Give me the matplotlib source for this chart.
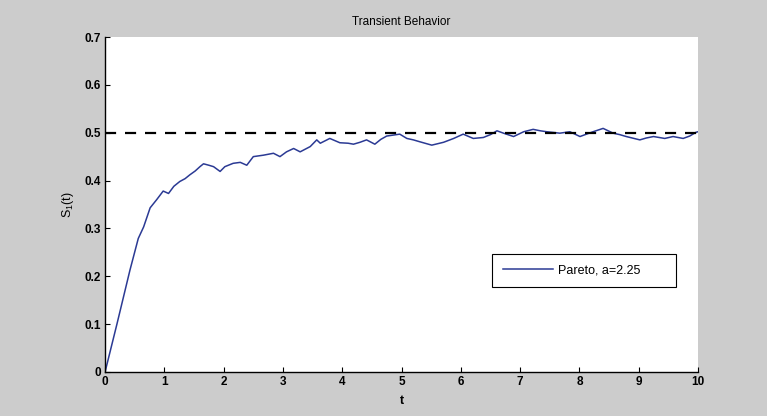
import numpy as np
import matplotlib.pyplot as plt

# simulated S_1(t) trajectory
t = [0.0, 0.2, 0.42, 0.56, 0.65, 0.76, 0.87, 0.98, 1.07, 1.16, 1.26, 1.35, 1.43, 1.52,
     1.60, 1.66, 1.75, 1.83, 1.94, 2.02, 2.16, 2.28, 2.39, 2.50, 2.67, 2.84, 2.95,
     3.06, 3.18, 3.29, 3.46, 3.57, 3.63, 3.79, 3.96, 4.10, 4.19, 4.30, 4.41, 4.55,
     4.65, 4.75, 4.97, 5.09, 5.20, 5.31, 5.51, 5.71, 5.88, 6.04, 6.21, 6.38, 6.50,
     6.61, 6.72, 6.89, 7.06, 7.22, 7.34, 7.45, 7.67, 7.84, 8.01, 8.12, 8.23, 8.40,
     8.57, 8.68, 8.79, 9.02, 9.13, 9.25, 9.44, 9.58, 9.75, 9.86, 9.97, 10.0]
s1 = [0.0, 0.100, 0.213, 0.279, 0.303, 0.343, 0.360, 0.378, 0.373, 0.388, 0.398, 0.404,
      0.412, 0.420, 0.429, 0.435, 0.432, 0.429, 0.419, 0.429, 0.436, 0.438, 0.432,
      0.450, 0.453, 0.457, 0.450, 0.460, 0.467, 0.460, 0.471, 0.485, 0.478, 0.488,
      0.479, 0.478, 0.476, 0.480, 0.485, 0.476, 0.486, 0.493, 0.497, 0.488, 0.485,
      0.481, 0.474, 0.480, 0.488, 0.497, 0.488, 0.490, 0.496, 0.504, 0.499, 0.492,
      0.502, 0.507, 0.504, 0.502, 0.499, 0.502, 0.492, 0.497, 0.502, 0.509, 0.499,
      0.496, 0.492, 0.485, 0.489, 0.492, 0.488, 0.492, 0.488, 0.493, 0.501, 0.502]
steady = 0.5
x_ticks = list(range(0, 11))
y_ticks = [0, 0.1, 0.2, 0.3, 0.4, 0.5, 0.6, 0.7]
y_tick_labels = ['0', '0.1', '0.2', '0.3', '0.4', '0.5', '0.6', '0.7']

plt.rcParams['font.family'] = ['Liberation Sans Narrow', 'Liberation Sans', 'DejaVu Sans']

fig = plt.figure(figsize=(7.67, 4.16), dpi=100, facecolor='#cccccc')
ax = fig.add_axes([0.137, 0.106, 0.773, 0.805])
ax.set_facecolor('white')

ax.plot(t, s1, color='#2b3a94', lw=1.1, label='Pareto, a=2.25')
ax.plot([0, 10], [steady, steady], color='black', lw=1.6, ls=(0, (5, 4)))

ax.set_xlim(0, 10)
ax.set_ylim(0, 0.7)
ax.set_xticks(x_ticks)
ax.set_xticklabels([str(v) for v in x_ticks], fontweight='bold', fontsize=8.5)
ax.set_yticks(y_ticks)
ax.set_yticklabels(y_tick_labels, fontweight='bold', fontsize=8.5)
ax.tick_params(direction='in', length=3.6, width=0.8, pad=3)

for side in ['top', 'right']:
    ax.spines[side].set_visible(False)
for side in ['left', 'bottom']:
    ax.spines[side].set_linewidth(1.0)

ax.set_title('Transient Behavior', fontsize=8.5, pad=9)
ax.set_xlabel('t', fontsize=9, fontweight='bold', labelpad=5)
ax.set_ylabel('$\\mathregular{S_1(t)}$', fontsize=9, labelpad=6)

leg = ax.legend(loc='lower left', bbox_to_anchor=(0.653, 0.254, 0.31, 0.096),
                mode='expand', borderaxespad=0, fancybox=False, framealpha=1,
                edgecolor='black', fontsize=9, handlelength=4.0,
                handletextpad=0.45, borderpad=0.85)
leg.get_frame().set_linewidth(0.8)

fig.savefig('out.png', dpi=100, facecolor=fig.get_facecolor())
